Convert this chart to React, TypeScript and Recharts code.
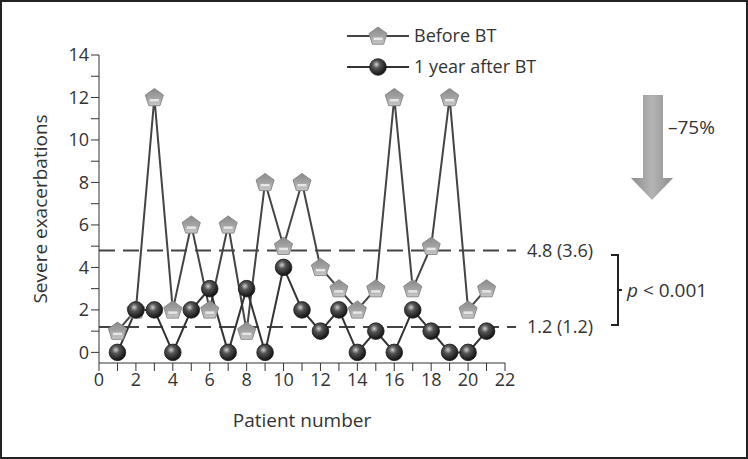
import React from 'react'
import {
  LineChart, Line, XAxis, YAxis, ReferenceLine,
} from 'recharts'

const PATIENTS = [1, 2, 3, 4, 5, 6, 7, 8, 9, 10, 11, 12, 13, 14, 15, 16, 17, 18, 19, 20, 21]
const BEFORE_BT = [1, 2, 12, 2, 6, 2, 6, 1, 8, 5, 8, 4, 3, 2, 3, 12, 3, 5, 12, 2, 3]
const AFTER_BT = [0, 2, 2, 0, 2, 3, 0, 3, 0, 4, 2, 1, 2, 0, 1, 0, 2, 1, 0, 0, 1]

const MEAN_BEFORE = 4.8
const MEAN_AFTER = 1.2
const MEAN_LABELS = ['4.8 (3.6)', '1.2 (1.2)']
const SERIES_NAMES = ['Before BT', '1 year after BT']

const X_TICKS = [0, 1, 2, 3, 4, 5, 6, 7, 8, 9, 10, 11, 12, 13, 14, 15, 16, 17, 18, 19, 20, 21, 22]
const Y_TICKS = [0, 1, 2, 3, 4, 5, 6, 7, 8, 9, 10, 11, 12, 13, 14]

const FONT = '"Open Sans", "Noto Sans", sans-serif'
const TEXT = '#333'

const rows = PATIENTS.map((p, i) => ({ patient: p, before: BEFORE_BT[i], after: AFTER_BT[i] }))

function pentagonPath(cx: number, cy: number, r: number) {
  const pts = [0, 1, 2, 3, 4].map(k => {
    const a = -Math.PI / 2 + (k * 2 * Math.PI) / 5
    return `${(cx + r * Math.cos(a)).toFixed(1)},${(cy + r * Math.sin(a)).toFixed(1)}`
  })
  return 'M' + pts.join('L') + 'Z'
}

const Pentagon = (props: any) => {
  const { cx, cy } = props
  if (cx == null || cy == null) return null
  return (
    <g>
      <path d={pentagonPath(cx, cy + 0.5, 9.5)} fill="url(#pentGrad)" stroke="#8a8a8a" strokeWidth={1} />
      <rect x={cx - 4.5} y={cy + 1.5} width={9} height={2.5} fill="#e6e6e6" />
    </g>
  )
}

const Sphere = (props: any) => {
  const { cx, cy } = props
  if (cx == null || cy == null) return null
  return <circle cx={cx} cy={cy} r={8.3} fill="url(#sphereGrad)" stroke="#1a1a1a" strokeWidth={0.8} />
}

const xFmt = (v: number) => (v % 2 === 0 ? String(v) : '')
const yFmt = (v: number) => (v % 2 === 0 ? String(v) : '')

const LegendBox = () => (
  <svg width={230} height={60} style={{ position: 'absolute', left: 345, top: 22, overflow: 'visible' }}>
    <line x1={2} y1={14} x2={64} y2={14} stroke="#444" strokeWidth={2} />
    <Pentagon cx={33} cy={14} />
    <text x={69} y={20} fontSize={18} fontFamily={FONT} fill={TEXT}>{SERIES_NAMES[0]}</text>
    <line x1={2} y1={45} x2={64} y2={45} stroke="#333" strokeWidth={2} />
    <Sphere cx={33} cy={45} />
    <text x={69} y={51} fontSize={18} fontFamily={FONT} fill={TEXT}>{SERIES_NAMES[1]}</text>
  </svg>
)

export default function App() {
  return (
    <div style={{
      position: 'absolute', left: 0, top: 0, width: 748, height: 459,
      boxSizing: 'border-box', border: '2px solid #222', background: '#fff',
    }}>
      <div style={{ position: 'absolute', left: -2, top: -2 }}>
        <LineChart width={748} height={459} data={rows}
          margin={{ top: 55, right: 243, bottom: 32, left: 29 }}>
          <defs>
            <linearGradient id="pentGrad" x1="0" y1="0" x2="0" y2="1">
              <stop offset="0%" stopColor="#8a8a8a" />
              <stop offset="55%" stopColor="#a4a4a4" />
              <stop offset="100%" stopColor="#c9c9c9" />
            </linearGradient>
            <radialGradient id="sphereGrad" cx="40%" cy="35%" r="65%">
              <stop offset="0%" stopColor="#d0d0d0" />
              <stop offset="35%" stopColor="#555" />
              <stop offset="100%" stopColor="#111" />
            </radialGradient>
          </defs>
          <XAxis type="number" dataKey="patient" domain={[0, 22]} ticks={X_TICKS}
            tickFormatter={xFmt} interval={0} tickSize={8} height={64}
            stroke="#333" tick={{ fill: TEXT, fontSize: 18, fontFamily: FONT }}
            label={{ value: 'Patient number', position: 'insideBottom', offset: 0, fill: TEXT, fontSize: 19, fontFamily: FONT }} />
          <YAxis type="number" domain={[-0.5, 14]} ticks={Y_TICKS} tickFormatter={yFmt}
            interval={0} tickSize={8} width={70} allowDataOverflow
            stroke="#333" tick={{ fill: TEXT, fontSize: 18, fontFamily: FONT }}
            label={{ value: 'Severe exacerbations', angle: -90, position: 'insideLeft', offset: 11, fill: TEXT, fontSize: 19, fontFamily: FONT, style: { textAnchor: 'middle' } }} />
          <ReferenceLine ifOverflow="visible" segment={[{ x: 0, y: MEAN_BEFORE }, { x: 22.6, y: MEAN_BEFORE }]}
            stroke="#444" strokeWidth={2} strokeDasharray="16 8"
            label={{ value: MEAN_LABELS[0], position: 'right', offset: 11, fill: TEXT, fontSize: 18, fontFamily: FONT }} />
          <ReferenceLine ifOverflow="visible" segment={[{ x: 0, y: MEAN_AFTER }, { x: 22.6, y: MEAN_AFTER }]}
            stroke="#444" strokeWidth={2} strokeDasharray="16 8"
            label={{ value: MEAN_LABELS[1], position: 'right', offset: 11, fill: TEXT, fontSize: 18, fontFamily: FONT }} />
          <Line type="linear" dataKey="before" name={SERIES_NAMES[0]} stroke="#444" strokeWidth={2}
            dot={<Pentagon />} activeDot={false} isAnimationActive={false} />
          <Line type="linear" dataKey="after" name={SERIES_NAMES[1]} stroke="#333" strokeWidth={2}
            dot={<Sphere />} activeDot={false} isAnimationActive={false} />
        </LineChart>
      </div>
      <div style={{ position: 'absolute', left: -2, top: -2 }}>
        <LegendBox />
      </div>
      {/* annotations: arrow, bracket, p value */}
      <svg width={748} height={459} style={{ position: 'absolute', left: -2, top: -2, pointerEvents: 'none' }}>
        <defs>
          <linearGradient id="arrowGrad" x1="0" y1="0" x2="1" y2="0">
            <stop offset="0%" stopColor="#8c8c8c" />
            <stop offset="50%" stopColor="#b5b5b5" />
            <stop offset="100%" stopColor="#8c8c8c" />
          </linearGradient>
        </defs>
        <path d="M643,95 H663 V178 H673 L652,200 L631,178 H643 Z" fill="url(#arrowGrad)" />
        <text x={668} y={134} fontSize={19} fontFamily={FONT} fill={TEXT}>–75%</text>
        <path d="M611,255 H618 V325 H611 M618,290 H622" fill="none" stroke="#222" strokeWidth={2} />
        <text x={627} y={297} fontSize={19} fontFamily={FONT} fill={TEXT}>
          <tspan fontStyle="italic">p</tspan> &lt; 0.001
        </text>
      </svg>
    </div>
  )
}
